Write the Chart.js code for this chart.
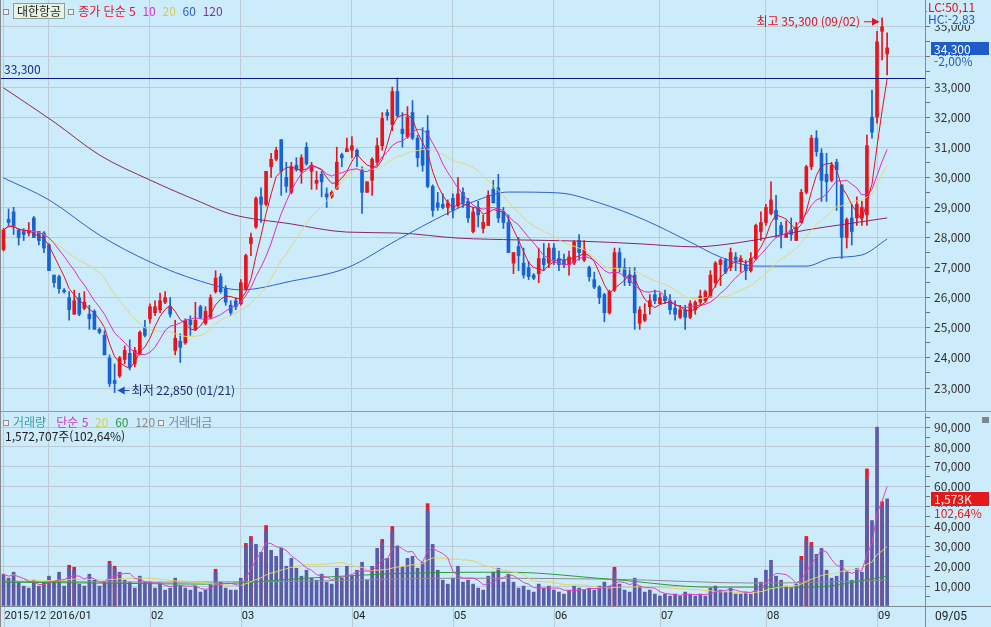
<!DOCTYPE html>
<html lang="ko"><head><meta charset="utf-8"><title>대한항공</title>
<script src="https://cdn.jsdelivr.net/npm/chart.js@4.4.1/dist/chart.umd.min.js"></script>
<style>
html,body{margin:0;padding:0;background:#ccecfb;overflow:hidden;}
#wrap{position:relative;width:991px;height:627px;background:#ccecfb;font-family:"Noto Sans CJK KR","Noto Sans",sans-serif;font-size:12px;overflow:hidden;}
canvas{position:absolute;left:0;}
#c1{top:0;} #c2{top:412px;}
.lg{position:absolute;white-space:nowrap;line-height:14px;height:14px;font-size:12px;}
.sq{display:inline-block;width:4px;height:4px;border:1px solid #8a9098;background:#eef2f4;vertical-align:middle;margin:0 4px 2px 1px;}
.name{display:inline-block;border:1px solid #90a090;background:#e6f2e4;padding:0 3px;line-height:14px;color:#222;margin-right:2px;}
#sep{position:absolute;left:0;top:411px;width:991px;height:1px;background:#8f9aa5;}
#lb{position:absolute;left:0;top:0;width:1px;height:627px;background:#8a8a8a;}
</style></head>
<body>
<div id="wrap">
<canvas id="c1" width="991" height="411"></canvas>
<canvas id="c2" width="991" height="215"></canvas>
<div id="sep"></div><div id="lb"></div>
<div class="lg" style="left:2px;top:3px"><span class="sq"></span><span class="name">대한항공</span><span class="sq"></span><span style="color:#e0142a">종가 단순 5</span>&nbsp;&nbsp;<span style="color:#e030c8">10</span>&nbsp;&nbsp;<span style="color:#d8cc50">20</span>&nbsp;&nbsp;<span style="color:#3060d0">60</span>&nbsp;&nbsp;<span style="color:#7a3a86">120</span></div>
<div class="lg" style="left:2px;top:415px"><span class="sq"></span><span style="color:#3a9ea8">거래량</span>&nbsp;&nbsp;&nbsp;<span style="color:#d038c0">단순 5</span>&nbsp;&nbsp;<span style="color:#d8cc50">20</span>&nbsp;&nbsp;<span style="color:#2a9a3a">60</span>&nbsp;&nbsp;<span style="color:#8c8c8c">120</span><span class="sq" style="margin-left:3px"></span><span style="color:#7a8a9a">거래대금</span></div>
<div class="lg" id="volinfo" style="left:5px;top:429px;color:#222"></div>
</div>
<script>
// ---------------- DATA ----------------
const tradingDays = {
 '2015/12':[17,18,21,22,23,24,28,29,30],
 '2016/01':[4,5,6,7,8,11,12,13,14,15,18,19,20,21,22,25,26,27,28,29],
 '2016/02':[1,2,3,4,5,11,12,15,16,17,18,19,22,23,24,25,26,29],
 '2016/03':[2,3,4,7,8,9,10,11,14,15,16,17,18,21,22,23,24,25,28,29,30,31],
 '2016/04':[1,4,5,6,7,8,11,12,14,15,18,19,20,21,22,25,26,27,28,29],
 '2016/05':[2,3,4,9,10,11,12,13,16,17,18,19,20,23,24,25,26,27,30,31],
 '2016/06':[1,2,3,7,8,9,10,13,14,15,16,17,20,21,22,23,24,27,28,29,30],
 '2016/07':[1,4,5,6,7,8,11,12,13,14,15,18,19,20,21,22,25,26,27,28,29],
 '2016/08':[1,2,3,4,5,8,9,10,11,12,16,17,18,19,22,23,24,25,26,29,30,31],
 '2016/09':[1,2,5]
};
const monthTickLabels = ['2015/12','2016/01','02','03','04','05','06','07','08','09'];

const open = [
 27600,28600,28850,28250,28200,28150,28650,28200,28150,
 27750,26750,26700,26250,26000,25450,26000,25650,25450,25550,24950,24750,24000,23250,23400,23950,24150,23800,24150,25000,
 25300,25500,25600,25850,25700,24250,24550,24500,25250,24950,25700,25150,25350,26200,26700,26300,25750,25900,
 25800,26300,27800,28350,29350,29100,30350,30600,31250,30000,29500,30400,30200,31000,30200,29800,30100,29450,29350,29600,30750,30850,
 30900,30900,30250,29500,29900,30500,31050,32150,31750,32850,31600,31350,32150,31300,30950,31550,29700,29150,29100,29000,
 29300,29050,29500,29200,28200,29000,28300,28400,29600,29650,28850,28500,27150,27700,27150,27000,26750,26800,27300,27150,
 27650,27300,27250,27100,27150,27900,27250,27000,26600,26350,26100,25500,26250,27500,27000,26750,26750,25150,25250,25700,26100,
 25800,26050,25900,25650,25350,25600,25350,25600,25850,25900,26000,26500,27100,27250,27000,27350,27200,27100,26900,27300,28200,
 28500,28800,28900,28400,28000,28250,27900,28500,29500,30350,31300,30800,30100,29900,30500,29750,28000,28650,28650,28650,28750,32000,
 32000,34850,34100
];
const high = [
 28300,28950,29000,28300,28300,28500,28700,28200,28200,
 27800,26750,26750,26300,26200,26250,26150,26200,25750,25600,25000,24900,24100,23800,24050,24400,24600,24350,24900,25250,
 25800,25900,26150,26200,26000,25250,24800,25300,25400,25850,25750,25700,26100,26900,26800,26400,25900,26000,
 26600,27450,28150,29350,29650,30200,30800,31000,31250,30500,30500,30650,30750,31150,30500,30200,30200,29650,29550,31000,30800,31300,
 31350,30950,30350,29850,30650,31300,32150,32250,33000,33300,32150,32350,32550,31400,31650,32050,29750,29500,29450,29250,
 29450,30000,29650,29300,29000,29200,28750,29550,29900,30100,29000,28750,27500,28000,27650,27200,26800,27650,27800,27800,
 27800,27550,27450,27550,27900,28100,27900,27050,26850,26400,26150,26250,27650,27650,27300,27000,27000,25700,25800,26100,26250,
 26150,26250,26100,25900,25750,25750,25900,25900,26250,26250,26900,27200,27300,27300,27650,27500,27400,27250,27500,28450,28850,
 29100,29850,29400,28500,28550,28650,28500,29600,30400,31400,31550,30950,30800,30500,30600,29750,28650,29100,29350,29200,31400,32900,
 34850,35300,34800
];
const low = [
 27550,28350,28100,27750,27900,28050,28000,27750,27500,
 26900,26350,26150,26150,25250,25450,25400,25600,24950,24950,24800,24100,23050,22850,23350,23800,23600,23700,24100,24700,
 25150,25400,25500,25800,25350,24100,23850,24450,24750,24900,25300,25100,25300,26150,26150,25750,25400,25600,
 25750,26250,27400,28300,28500,29050,30000,30550,29400,29500,29450,30200,29800,30400,29600,29600,29350,29000,29300,29600,30350,30850,
 30650,30350,28800,29500,29400,30400,30900,31900,31550,32000,31000,31300,31250,30350,30200,29650,28700,28900,28950,28750,
 28650,29000,29000,28500,28150,28350,28150,28400,29150,28500,28300,27500,26800,26900,26650,26600,26600,26500,26900,27000,
 27100,26900,27000,26750,27100,27250,27200,26550,26300,25800,25200,25450,26200,26850,26400,26400,24950,24950,25200,25450,25800,
 25800,25800,25450,25250,25300,24950,25300,25450,25750,25850,26000,26350,26400,26800,26900,26900,26850,26600,26850,27250,27900,
 28400,28750,28000,27650,28000,27900,27900,28500,29450,30250,30700,29200,29200,29850,28900,27300,27650,27750,28400,28400,28400,31300,
 31800,33900,33400
];
const close = [
 28250,28500,28350,28000,28100,28200,28000,27900,27650,
 26900,26500,26300,26200,25600,25900,25450,25850,25300,24950,24850,24100,23150,23150,24000,24250,23700,24250,24850,24750,
 25700,25700,25900,26000,25450,24650,24350,25250,25100,25250,25350,25550,26000,26650,26200,25850,25500,25700,
 26500,27400,28000,29300,29100,30200,30600,30900,30200,29700,30350,30250,30650,30450,30400,29900,29850,29350,29500,30500,30650,30950,
 31050,30700,29500,29850,30600,31050,31950,32050,32850,32050,31450,32000,31300,30650,30400,29700,28900,29000,29000,29150,
 28900,29450,29150,28650,28850,28750,28500,29400,29150,28650,28500,27500,27500,27400,26750,26700,26650,27300,27100,27650,
 27250,27100,27100,27350,27850,27500,27600,26700,26350,26000,25500,26200,27500,27000,26700,26500,25500,25600,25450,25900,25900,
 26000,25900,25600,25450,25600,25350,25800,25850,26050,26200,26750,27150,27250,26850,27500,27250,27300,26900,27300,28400,28500,
 29000,29250,28600,28100,28100,28100,28350,29500,30350,31300,30850,29900,29850,30400,30250,28000,28600,28200,29100,29000,31050,31500,
 34500,35000,34300
];
// 60 / 120-day price averages (day index -> value)
const ma60Idx = [0,9,19,29,39,47,57,68,78,88,94,100,110,118,127,136,142,149,159,164,170,175];
const ma60Val = [29980,29250,28080,27190,26550,26260,26550,26990,27920,28810,29250,29510,29480,29150,28580,27850,27350,27050,27050,27320,27420,27950];
const ma120Idx = [0,10,19,29,39,45,57,68,78,90,102,114,126,137,142,149,159,167,175];
const ma120Val = [32970,31840,30740,29910,29180,28780,28450,28180,28150,27980,27920,27880,27790,27690,27750,27920,28250,28450,28650];

// volume panel (axis units)
const vol = [
 16000,14000,17000,12000,10000,9000,13000,10000,12000,
 15000,12000,17000,10000,19000,18000,11000,10000,16000,13000,10000,12000,21000,19000,17000,13000,12000,9000,15000,12000,
 12000,9000,11000,8000,9000,14000,10000,9000,8000,10000,7000,8000,11000,17000,12000,9000,8000,8000,
 14000,30000,33000,31000,27000,38000,28000,25000,29000,20000,24000,19000,15000,18000,14000,13000,16000,12000,11000,19000,14000,20000,
 15000,18000,22000,13000,20000,29000,32000,24000,38000,30000,20000,24000,25000,19000,22000,48000,31000,18000,13000,11000,
 14000,20000,12000,13000,11000,9000,8000,15000,17000,19000,12000,16000,12000,9000,10000,8000,7000,11000,9000,10000,
 8000,7000,6000,8000,10000,9000,8000,9000,8000,10000,12000,10000,18000,11000,8000,7000,14000,10000,7000,8000,6000,
 5000,6000,5000,6000,5000,7000,6000,5000,6000,5000,9000,10000,8000,7000,9000,6000,6000,7000,6000,14000,12000,
 18000,23000,15000,13000,10000,9000,11000,23000,33000,30000,26000,29000,18000,14000,15000,23000,17000,13000,19000,17000,64000,43000,
 90000,50000,53900
];
const volRedIdx = [13,14,21,22,42,48,49,52,75,77,84,121,158,159,160,171,174];
const volRedVal = [20500,19500,22500,20000,18500,31500,35000,40500,33500,40000,51500,19500,25000,35000,32000,69000,52500];
const vma60Idx = [0,20,40,60,80,100,120,140,160,175];
const vma60Val = [12000,11500,11000,14000,16500,17000,13500,9500,9500,15000];
const vma120Idx = [0,30,60,90,120,150,175];
const vma120Val = [12500,12000,12500,14000,13500,11500,13000];

const refLine = 33300;
const lastShares = 1572707;
const volRatio = 102.64;
const indLC = 50.11, indHC = -2.83;

// ---------------- BUILD ----------------
const N = close.length;
const EXTRA = 7;
const labels = [];
Object.keys(tradingDays).forEach(m => tradingDays[m].forEach(d => labels.push(m + '/' + String(d).padStart(2,'0'))));
for (let i = 0; i < EXTRA; i++) labels.push('');
const monthStart = new Map();
{ let k = 0; Object.keys(tradingDays).forEach((m, j) => { monthStart.set(k, monthTickLabels[j]); k += tradingDays[m].length; }); }

const sma = (arr, n) => arr.map((_, i) => { const s = Math.max(0, i - n + 1); let t = 0; for (let j = s; j <= i; j++) t += arr[j]; return t / (i - s + 1); });
const sparse = (idx, val) => { const a = new Array(N).fill(null); idx.forEach((i, j) => a[i] = val[j]); return a; };
const fmt = v => Math.round(v).toLocaleString('en-US');
const dec = v => v.toFixed(2).replace('.', ',');

const C = { up:'#e8141c', down:'#1862d2', ma5:'#e8101a', ma10:'#e028c8', ma20:'#e2d878', ma60:'#2c5fd8', ma120:'#8a2466',
  grid:'#bccad6', ref:'#0c1480', vol:'#5b5ba8', volUp:'#e81c24', vma5:'#e040c8', vma20:'#e2d45c', vma60:'#2a9a3a', vma120:'#8c8c8c', axis:'#7f8a94', bg:'#ccecfb' };
const FAM = "'Noto Sans CJK KR','Noto Sans',sans-serif";
const F12 = "12px " + FAM;
const XFAM = "Roboto,'Liberation Sans',sans-serif";

const candleColors = close.map((c, i) => c >= open[i] ? C.up : C.down);
const bodies = close.map((c, i) => [Math.min(c, open[i]), Math.max(c, open[i])]);
const wicks = low.map((l, i) => [l, high[i]]);
const line = (data, color, extra) => Object.assign({ type:'line', data, borderColor: color, borderWidth:1, pointRadius:0, order:1, tension:0 }, extra || {});
const smooth = { spanGaps:true, cubicInterpolationMode:'monotone' };

const PMAX = 33000 + 87 / 0.0301;
const PMIN = 33000 - (411 - 87) / 0.0301;
const VMAX = (606 - 413) / 0.0019875;

document.getElementById('volinfo').textContent = fmt(lastShares) + '주(' + dec(volRatio) + '%)';

const xGridColor = ctx => monthStart.has(ctx.index) ? C.grid : 'rgba(0,0,0,0)';
const zeroPad = s => { s.paddingLeft = 0; s.paddingRight = 0; s.paddingTop = 0; s.paddingBottom = 0; };

function arrow(ctx, x1, x2, y, color) {
  ctx.strokeStyle = color; ctx.fillStyle = color; ctx.lineWidth = 1;
  ctx.beginPath(); ctx.moveTo(x1, y); ctx.lineTo(x2, y); ctx.stroke();
  const d = x2 > x1 ? 1 : -1;
  ctx.beginPath(); ctx.moveTo(x2, y); ctx.lineTo(x2 - d * 7, y - 4); ctx.lineTo(x2 - d * 7, y + 4); ctx.closePath(); ctx.fill();
}

const pricePlugin = {
  id: 'priceExtras',
  afterDatasetsDraw(chart) {
    const { ctx, chartArea: a, scales: { x, y } } = chart;
    ctx.save();
    const ly = Math.round(y.getPixelForValue(refLine)) + 0.5;
    ctx.strokeStyle = C.ref; ctx.lineWidth = 1;
    ctx.beginPath(); ctx.moveTo(a.left, ly); ctx.lineTo(a.right, ly); ctx.stroke();
    ctx.font = F12; ctx.textBaseline = 'middle';
    ctx.fillStyle = '#1a2a8a'; ctx.textAlign = 'left';
    ctx.fillText(fmt(refLine), 4, ly - 9);
    const hi = high.indexOf(Math.max(...high));
    const hx = x.getPixelForValue(hi), hy = y.getPixelForValue(high[hi]) + 4;
    arrow(ctx, hx - 18, hx - 3, hy, '#e0101c');
    ctx.fillStyle = '#e0101c'; ctx.textAlign = 'right';
    ctx.fillText('최고 ' + fmt(high[hi]) + ' (' + labels[hi].slice(5) + ')', hx - 22, hy);
    const lo = low.indexOf(Math.min(...low));
    const lx = x.getPixelForValue(lo), lyy = y.getPixelForValue(low[lo]) - 2;
    arrow(ctx, lx + 15, lx + 3, lyy, '#1a50d0');
    ctx.fillStyle = '#1c2a70'; ctx.textAlign = 'left';
    ctx.fillText('최저 ' + fmt(low[lo]) + ' (' + labels[lo].slice(5) + ')', lx + 17, lyy);
    ctx.restore();
  },
  afterDraw(chart) {
    const { ctx, chartArea: a, scales: { y } } = chart;
    ctx.save();
    ctx.font = F12; ctx.textBaseline = 'middle'; ctx.textAlign = 'left';
    ctx.fillStyle = C.bg; ctx.fillRect(a.right + 2, 0, 62, 25);
    ctx.fillStyle = '#d01818'; ctx.fillText('LC:' + dec(indLC), a.right + 3, 7);
    ctx.fillStyle = '#2458c0'; ctx.fillText('HC:' + dec(indHC), a.right + 3, 19);
    const last = close[N - 1], prev = close[N - 2];
    const py = Math.round(y.getPixelForValue(last));
    ctx.fillStyle = '#1f5cc8'; ctx.fillRect(a.right + 6, py - 6, 58, 13);
    ctx.fillStyle = '#ffffff'; ctx.fillText(fmt(last), a.right + 9, py + 1);
    ctx.fillStyle = C.bg; ctx.fillRect(a.right + 7, py + 8, 55, 12);
    ctx.fillStyle = '#2458c0'; ctx.fillText(dec((last / prev - 1) * 100) + '%', a.right + 9, py + 13);
    ctx.restore();
  }
};

new Chart(document.getElementById('c1'), {
  type: 'bar',
  data: { labels, datasets: [
    line(sma(close, 5), C.ma5),
    line(sma(close, 10), C.ma10),
    line(sma(close, 20), C.ma20),
    line(sparse(ma60Idx, ma60Val), C.ma60, smooth),
    line(sparse(ma120Idx, ma120Val), C.ma120, smooth),
    { type:'bar', data: bodies, backgroundColor: candleColors, barThickness: 3, grouped: false, order: 3, minBarLength: 1, borderWidth: 0 },
    { type:'bar', data: wicks, backgroundColor: candleColors, barThickness: 1, grouped: false, order: 4, borderWidth: 0 }
  ]},
  options: {
    responsive: false, animation: false, devicePixelRatio: 1,
    layout: { padding: { left: 1, right: 0, top: 0, bottom: 0 } },
    plugins: { legend: { display: false }, tooltip: { enabled: false } },
    scales: {
      x: { offset: true, grid: { offset: false, color: xGridColor, drawTicks: false }, ticks: { display: false }, border: { display: false },
           afterFit: s => { s.height = 0; zeroPad(s); } },
      y: { position: 'right', min: PMIN, max: PMAX,
           afterBuildTicks: s => { const t = []; for (let v = 23000; v <= 35500; v += 500) t.push({ value: v }); s.ticks = t; },
           afterFit: s => { s.width = 66; zeroPad(s); },
           ticks: { autoSkip: false, callback: v => v % 1000 === 0 ? fmt(v) : '', font: { family: FAM, size: 12 }, color: '#333', padding: 4 },
           grid: { color: ctx => (ctx.tick && ctx.tick.value % 1000 === 0) ? C.grid : 'rgba(0,0,0,0)', tickColor: '#6a7580', tickLength: 5 },
           border: { display: true, color: C.axis } }
    }
  },
  plugins: [pricePlugin]
});

const volPlugin = {
  id: 'volExtras',
  afterDraw(chart) {
    const { ctx, chartArea: a, scales: { x, y } } = chart;
    ctx.save();
    ctx.strokeStyle = C.axis; ctx.lineWidth = 1;
    ctx.beginPath(); ctx.moveTo(0, a.bottom + 0.5); ctx.lineTo(chart.width, a.bottom + 0.5); ctx.stroke();
    ctx.beginPath(); ctx.moveTo(a.right + 0.5, a.bottom); ctx.lineTo(a.right + 0.5, chart.height); ctx.stroke();
    ctx.strokeStyle = C.grid;
    for (const i of monthStart.keys()) {
      const px = Math.round(x.getPixelForTick(i)) + 0.5;
      ctx.beginPath(); ctx.moveTo(px, a.bottom + 1); ctx.lineTo(px, chart.height); ctx.stroke();
    }
    ctx.font = "12px " + XFAM; ctx.textBaseline = 'middle'; ctx.textAlign = 'left';
    ctx.fillStyle = '#222'; ctx.fillText(labels[N - 1].slice(5), a.right + 10, a.bottom + 11);
    ctx.font = F12;
    const vy = Math.round(y.getPixelForValue(vol[N - 1]));
    ctx.fillStyle = '#e21a1a'; ctx.fillRect(a.right + 6, vy - 7, 58, 14);
    ctx.fillStyle = '#fff'; ctx.fillText(fmt(lastShares / 1000) + 'K', a.right + 9, vy);
    ctx.fillStyle = C.bg; ctx.fillRect(a.right + 7, vy + 8, 55, 12);
    ctx.fillStyle = '#e21a1a'; ctx.fillText(dec(volRatio) + '%', a.right + 9, vy + 14);
    ctx.fillStyle = '#7d8790'; ctx.fillRect(chart.width - 9, 5, 7, 6);
    ctx.restore();
  }
};

new Chart(document.getElementById('c2'), {
  type: 'bar',
  data: { labels, datasets: [
    line(sma(vol, 5), C.vma5),
    line(sma(vol, 20), C.vma20),
    line(sparse(vma60Idx, vma60Val), C.vma60, smooth),
    line(sparse(vma120Idx, vma120Val), C.vma120, smooth),
    { type:'bar', data: vol, backgroundColor: C.vol, barThickness: 3, grouped: false, order: 3, borderWidth: 0 },
    { type:'bar', data: sparse(volRedIdx, volRedVal), backgroundColor: C.volUp, barThickness: 3, grouped: false, order: 4, borderWidth: 0 }
  ]},
  options: {
    responsive: false, animation: false, devicePixelRatio: 1,
    layout: { padding: { left: 1, right: 0, top: 1, bottom: 0 } },
    plugins: { legend: { display: false }, tooltip: { enabled: false } },
    scales: {
      x: { offset: true, grid: { offset: false, color: xGridColor, drawTicks: false }, border: { display: false },
           ticks: { autoSkip: false, maxRotation: 0, minRotation: 0, align: 'start', labelOffset: 1, padding: 4,
                    callback: (v, i) => monthStart.get(i) || '', font: { family: XFAM, size: 11 }, color: '#222' },
           afterFit: s => { s.height = 21; zeroPad(s); } },
      y: { position: 'right', min: 0, max: VMAX,
           afterBuildTicks: s => { const t = []; for (let v = 0; v <= 95000; v += 5000) t.push({ value: v }); s.ticks = t; },
           afterFit: s => { s.width = 66; zeroPad(s); },
           ticks: { autoSkip: false, callback: v => (v > 0 && v % 10000 === 0) ? fmt(v) : '', font: { family: FAM, size: 12 }, color: '#333', padding: 4 },
           grid: { color: ctx => (ctx.tick && ctx.tick.value > 0 && ctx.tick.value % 10000 === 0) ? C.grid : 'rgba(0,0,0,0)', tickColor: '#6a7580', tickLength: 5 },
           border: { display: true, color: C.axis } }
    }
  },
  plugins: [volPlugin]
});
</script>
</body></html>
